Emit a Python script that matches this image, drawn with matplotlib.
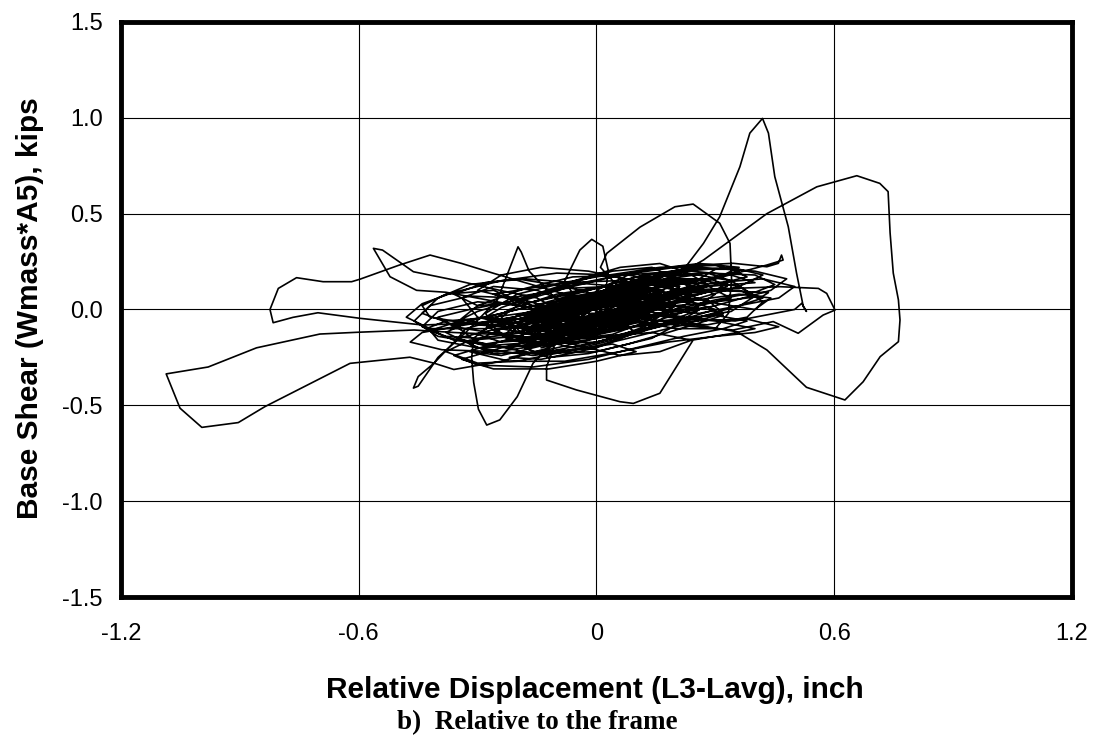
import numpy as np
from matplotlib import pyplot as plt

# ============================================================
# Dados (deslocamento relativo x cortante)
# ============================================================

core_1 = [(0.00, 0.00), (0.05, 0.04), (0.10, 0.08), (0.08, 0.12), (0.02, 0.10), (-0.05, 0.03),
          (-0.10, -0.04), (-0.12, -0.09), (-0.06, -0.10), (0.02, -0.05), (0.10, 0.02), (0.15, 0.08),
          (0.12, 0.13), (0.04, 0.11), (-0.04, 0.04), (-0.12, -0.03), (-0.18, -0.08), (-0.15, -0.13),
          (-0.06, -0.11), (0.04, -0.04), (0.14, 0.04), (0.20, 0.10), (0.17, 0.15), (0.08, 0.13),
          (-0.02, 0.06), (-0.11, -0.02), (-0.20, -0.09), (-0.22, -0.14), (-0.14, -0.15), (-0.03, -0.09),
          (0.08, -0.01), (0.18, 0.06), (0.24, 0.11), (0.20, 0.16), (0.10, 0.14), (0.00, 0.07),
          (-0.10, 0.00), (-0.19, -0.06), (-0.25, -0.11), (-0.21, -0.16), (-0.10, -0.13), (0.02, -0.06),
          (0.12, 0.02), (0.22, 0.08), (0.28, 0.13), (0.24, 0.18), (0.12, 0.17), (0.02, 0.10),
          (-0.08, 0.03), (-0.18, -0.04), (-0.27, -0.09), (-0.30, -0.13), (-0.24, -0.17), (-0.12, -0.15),
          (0.00, -0.08), (0.10, 0.00), (0.20, 0.06), (0.30, 0.10), (0.34, 0.15), (0.28, 0.19),
          (0.16, 0.18), (0.05, 0.12), (-0.06, 0.05), (-0.16, -0.02), (-0.26, -0.06), (-0.33, -0.10),
          (-0.35, -0.15), (-0.28, -0.19), (-0.15, -0.17), (-0.03, -0.11), (-0.15, -0.05), (-0.25, -0.05)]

dip = [(-0.31, -0.15), (-0.315, -0.25), (-0.31, -0.38), (-0.298, -0.52), (-0.277, -0.603),
       (-0.244, -0.576), (-0.20, -0.455), (-0.16, -0.28), (-0.10, -0.15), (-0.02, -0.05)]

core_2 = [(0.05, 0.02), (0.12, 0.07), (0.10, 0.11), (0.03, 0.08), (-0.04, 0.01), (-0.09, -0.05),
          (-0.06, -0.08), (0.00, -0.04), (0.07, 0.02), (0.11, 0.05), (0.06, 0.07), (-0.01, 0.03),
          (-0.07, -0.03), (-0.11, -0.07), (-0.05, -0.09), (0.03, -0.03), (0.09, 0.03), (0.13, 0.09),
          (0.07, 0.10), (0.00, 0.05), (-0.08, -0.01), (-0.14, -0.06), (-0.10, -0.11), (-0.01, -0.07),
          (0.06, -0.01), (0.14, 0.05), (0.17, 0.10), (0.11, 0.12), (0.03, 0.07), (-0.05, 0.00),
          (-0.13, -0.07), (-0.17, -0.11), (-0.09, -0.12), (0.00, -0.06), (0.08, 0.00), (0.16, 0.07),
          (0.21, 0.12), (0.14, 0.14), (0.05, 0.09), (-0.04, 0.02), (-0.12, -0.04), (-0.20, -0.10),
          (-0.18, -0.15), (-0.07, -0.12), (0.03, -0.05), (0.10, 0.05)]

peak = [(0.219, 0.206), (0.27, 0.345), (0.311, 0.484), (0.362, 0.745), (0.387, 0.92), (0.419, 0.997),
        (0.434, 0.92), (0.450, 0.693), (0.484, 0.432), (0.505, 0.189), (0.522, 0.015), (0.53, -0.01),
        (0.518, 0.032), (0.50, 0.0), (0.45, -0.02), (0.35, -0.06), (0.25, -0.05), (0.15, -0.03)]

core_3 = [(-0.02, -0.03), (0.06, 0.01), (0.09, 0.06), (0.04, 0.08), (-0.04, 0.03), (-0.12, -0.04),
          (-0.16, -0.09), (-0.11, -0.12), (-0.03, -0.08), (0.04, -0.02), (0.10, 0.03), (0.07, 0.07),
          (-0.01, 0.04), (-0.09, -0.02), (-0.15, -0.07), (-0.19, -0.12), (-0.13, -0.14), (-0.04, -0.10),
          (0.05, -0.04), (0.12, 0.02), (0.16, 0.06), (0.10, 0.09), (0.02, 0.05), (-0.07, -0.01),
          (-0.13, -0.05), (-0.21, -0.09), (-0.23, -0.13), (-0.16, -0.16), (-0.06, -0.13), (0.02, -0.07),
          (0.09, -0.02), (0.15, 0.04), (0.19, 0.08), (0.13, 0.11), (0.05, 0.07), (-0.03, 0.02),
          (-0.10, -0.03), (-0.17, -0.06), (-0.12, -0.10), (-0.05, -0.07), (0.01, -0.03), (0.05, -0.02)]

left_loop = [(-0.05, -0.06), (-0.15, -0.10), (-0.25, -0.13), (-0.36, -0.12), (-0.46, -0.107),
             (-0.605, -0.119), (-0.698, -0.128), (-0.791, -0.17), (-0.858, -0.20), (-0.98, -0.30),
             (-1.086, -0.336), (-1.051, -0.515), (-0.996, -0.615), (-0.904, -0.590), (-0.837, -0.507),
             (-0.622, -0.281), (-0.471, -0.249), (-0.41, -0.28), (-0.36, -0.313), (-0.24, -0.27),
             (-0.12, -0.20)]

core_4 = [(0.10, 0.03), (0.22, 0.09), (0.32, 0.14), (0.38, 0.17), (0.34, 0.21), (0.22, 0.21),
          (0.10, 0.17), (-0.02, 0.10), (-0.14, 0.03), (-0.26, -0.03), (-0.36, -0.07), (-0.42, -0.11),
          (-0.40, -0.16), (-0.30, -0.20), (-0.18, -0.19), (-0.06, -0.14), (0.06, -0.07), (0.18, -0.01),
          (0.30, 0.05), (0.40, 0.09), (0.45, 0.13), (0.40, 0.18), (0.28, 0.19), (0.15, 0.15),
          (0.03, 0.09), (-0.09, 0.02), (-0.21, -0.04), (-0.33, -0.08), (-0.44, -0.12), (-0.47, -0.17),
          (-0.39, -0.21), (-0.25, -0.22), (-0.12, -0.18), (0.00, -0.12), (0.12, -0.05), (0.24, 0.01),
          (0.34, 0.06), (0.30, 0.10), (0.20, 0.09), (0.08, 0.04), (-0.10, -0.02), (-0.20, -0.05),
          (-0.30, -0.07)]

flag_loop = [(-0.438, -0.081), (-0.597, -0.046), (-0.703, -0.017), (-0.766, -0.041), (-0.816, -0.069),
             (-0.824, 0.0), (-0.803, 0.11), (-0.757, 0.166), (-0.690, 0.145), (-0.618, 0.145),
             (-0.597, 0.158), (-0.50, 0.23), (-0.42, 0.284), (-0.34, 0.24), (-0.26, 0.189),
             (-0.18, 0.14), (-0.08, 0.08)]

core_5 = [(0.10, 0.02), (0.20, 0.07), (0.27, 0.11), (0.24, 0.15), (0.16, 0.14), (0.08, 0.09),
          (0.00, 0.03), (-0.07, -0.03), (-0.10, -0.08), (-0.04, -0.10), (0.05, -0.05), (0.14, 0.01),
          (0.22, 0.06), (0.30, 0.10), (0.27, 0.14), (0.18, 0.13), (0.09, 0.08), (0.01, 0.02),
          (-0.06, -0.04), (-0.12, -0.09), (-0.08, -0.12), (0.02, -0.08), (0.11, -0.02), (0.20, 0.04),
          (0.26, 0.08), (0.33, 0.12), (0.29, 0.16), (0.19, 0.16), (0.10, 0.11), (0.02, 0.05),
          (-0.05, -0.01), (-0.09, -0.06), (-0.02, -0.07), (0.06, -0.03), (0.13, 0.03), (0.18, 0.06),
          (0.12, 0.08), (0.04, 0.04), (-0.03, -0.02), (-0.10, -0.02)]

tip_loop = [(-0.25, 0.04), (-0.38, 0.09), (-0.454, 0.10), (-0.521, 0.171), (-0.563, 0.319),
            (-0.54, 0.31), (-0.462, 0.197), (-0.35, 0.15), (-0.244, 0.10), (-0.15, 0.06)]

core_6 = [(-0.05, -0.06), (-0.18, -0.12), (-0.30, -0.15), (-0.38, -0.14), (-0.43, -0.10),
          (-0.38, -0.06), (-0.26, -0.04), (-0.12, 0.00), (0.02, 0.05), (0.16, 0.10), (0.26, 0.16),
          (0.30, 0.21), (0.20, 0.22), (0.06, 0.18), (-0.08, 0.12), (-0.20, 0.05), (-0.32, 0.00),
          (-0.40, -0.04), (-0.36, -0.09), (-0.24, -0.13), (-0.10, -0.16), (0.04, -0.14), (0.16, -0.09),
          (0.26, -0.04), (0.36, 0.02), (0.42, 0.06), (0.36, 0.10), (0.24, 0.10), (0.12, 0.06),
          (0.00, 0.01), (-0.12, -0.05), (-0.24, -0.10), (-0.32, -0.18), (-0.26, -0.23), (-0.12, -0.22),
          (0.00, -0.17), (0.12, -0.10), (0.22, -0.05), (0.30, 0.00), (0.24, 0.04), (0.12, 0.03),
          (0.10, 0.06)]

right_loop = [(0.27, 0.258), (0.43, 0.50), (0.556, 0.64), (0.657, 0.698), (0.715, 0.658),
              (0.736, 0.615), (0.741, 0.40), (0.749, 0.19), (0.762, 0.05), (0.766, -0.055),
              (0.762, -0.168), (0.716, -0.246), (0.673, -0.377), (0.627, -0.472), (0.53, -0.406),
              (0.43, -0.211), (0.354, -0.116), (0.25, -0.08), (0.12, -0.05)]

core_7 = [(0.02, 0.01), (0.07, 0.04), (0.05, 0.07), (-0.01, 0.04), (-0.05, -0.01), (-0.08, -0.05),
          (-0.04, -0.07), (0.01, -0.04), (0.06, 0.00), (0.09, 0.04), (0.05, 0.06), (0.00, 0.02),
          (-0.05, -0.03), (-0.10, -0.06), (-0.07, -0.09), (-0.01, -0.06), (0.04, -0.02), (0.08, 0.02),
          (0.11, 0.06), (0.06, 0.08), (0.01, 0.05), (-0.04, 0.00), (-0.09, -0.04), (-0.12, -0.08),
          (-0.06, -0.10), (0.00, -0.07), (0.06, -0.03), (0.10, 0.01), (0.13, 0.05), (0.09, 0.09),
          (0.03, 0.06), (-0.03, 0.01), (-0.08, -0.03), (-0.13, -0.06), (-0.10, -0.10), (-0.03, -0.08),
          (0.03, -0.03), (0.08, 0.01), (0.04, 0.03), (-0.02, 0.00), (-0.10, -0.15)]

low_line = [(-0.126, -0.30), (-0.126, -0.368), (-0.05, -0.42), (0.059, -0.481), (0.093, -0.49),
            (0.16, -0.437), (0.244, -0.159), (0.345, -0.124), (0.40, -0.10), (0.30, -0.06),
            (0.15, -0.02)]

core_8 = [(0.00, 0.05), (0.10, 0.12), (0.18, 0.18), (0.14, 0.22), (0.04, 0.20), (-0.06, 0.14),
          (-0.16, 0.07), (-0.24, 0.01), (-0.28, -0.04), (-0.22, -0.07), (-0.12, -0.04), (-0.02, 0.02),
          (0.08, 0.09), (0.16, 0.15), (0.22, 0.20), (0.16, 0.24), (0.06, 0.22), (-0.04, 0.16),
          (-0.14, 0.09), (-0.22, 0.04), (-0.30, -0.01), (-0.34, -0.05), (-0.27, -0.08), (-0.16, -0.06),
          (-0.06, -0.01), (0.04, 0.05), (0.12, 0.10), (0.20, 0.14), (0.14, 0.17), (0.05, 0.13),
          (0.01, 0.22)]

bump = [(0.026, 0.293), (0.11, 0.43), (0.198, 0.536), (0.244, 0.55), (0.311, 0.45), (0.337, 0.345),
        (0.341, 0.154), (0.333, -0.02), (0.30, -0.10), (0.20, -0.10), (0.05, -0.04), (-0.05, 0.05),
        (-0.08, 0.15), (-0.042, 0.31), (-0.012, 0.366), (0.016, 0.33), (0.03, 0.20), (0.02, 0.05)]

core_9 = [(0.00, -0.05), (-0.10, -0.12), (-0.20, -0.18), (-0.16, -0.22), (-0.06, -0.21), (0.04, -0.16),
          (0.14, -0.10), (0.22, -0.05), (0.26, 0.00), (0.20, 0.02), (0.10, -0.02), (0.00, -0.08),
          (-0.10, -0.15), (-0.18, -0.20), (-0.12, -0.25), (-0.02, -0.23), (0.08, -0.18), (0.18, -0.12),
          (0.26, -0.07), (0.32, -0.03), (0.28, 0.01), (0.18, -0.01), (0.08, -0.06), (-0.02, -0.12),
          (-0.12, -0.17), (-0.06, -0.20), (0.04, -0.15), (0.12, -0.09), (0.20, 0.02)]

core_10 = [(0.20, 0.02), (0.15, 0.10), (0.05, 0.15), (-0.08, 0.14), (-0.20, 0.08), (-0.28, -0.02),
           (-0.25, -0.12), (-0.14, -0.18), (0.00, -0.17), (0.12, -0.11), (0.18, -0.03), (0.14, 0.06),
           (0.04, 0.12), (-0.08, 0.11), (-0.18, 0.05), (-0.24, -0.04), (-0.20, -0.12), (-0.08, -0.16),
           (0.04, -0.13), (0.13, -0.06), (0.24, 0.04), (0.20, 0.13), (0.08, 0.18), (-0.06, 0.17),
           (-0.18, 0.11), (-0.30, 0.02), (-0.36, -0.08), (-0.30, -0.17), (-0.16, -0.23), (0.00, -0.22),
           (0.14, -0.15), (0.22, -0.06), (0.16, 0.02), (0.06, 0.06), (-0.10, 0.00)]

core_11 = [(-0.20, 0.06), (-0.32, 0.07), (-0.42, 0.02), (-0.46, -0.06), (-0.40, -0.14), (-0.28, -0.18),
           (-0.16, -0.14), (-0.10, -0.06), (-0.18, 0.02), (-0.30, 0.04), (-0.40, -0.01), (-0.44, -0.09),
           (-0.36, -0.16), (-0.22, -0.20), (-0.12, -0.16), (-0.06, -0.08), (-0.14, 0.00), (-0.26, 0.10),
           (-0.38, 0.08), (-0.44, 0.02), (-0.42, -0.04), (-0.30, -0.08), (-0.18, -0.10), (-0.06, -0.05),
           (0.05, 0.00)]

core_12 = [(0.15, -0.06), (0.28, -0.08), (0.38, -0.04), (0.42, 0.04), (0.36, 0.12), (0.24, 0.16),
           (0.12, 0.14), (0.04, 0.07), (0.10, -0.02), (0.22, -0.05), (0.34, -0.01), (0.40, 0.07),
           (0.34, 0.15), (0.20, 0.20), (0.08, 0.18), (0.00, 0.10), (0.06, 0.02), (0.18, -0.03),
           (0.30, 0.02), (0.44, 0.10), (0.48, 0.16), (0.40, 0.20), (0.26, 0.22), (0.14, 0.16),
           (0.04, 0.06), (-0.05, -0.02)]

core_13 = [(0.00, -0.02), (0.08, -0.06), (0.14, -0.01), (0.10, 0.06), (0.00, 0.08), (-0.10, 0.04),
           (-0.15, -0.04), (-0.10, -0.10), (0.00, -0.11), (0.08, -0.06), (0.12, 0.02), (0.05, 0.07),
           (-0.05, 0.06), (-0.12, 0.00), (-0.14, -0.07), (-0.06, -0.12), (0.04, -0.09), (0.11, -0.03),
           (0.09, 0.05), (-0.01, 0.07), (-0.09, 0.02), (-0.17, -0.05), (-0.12, -0.13), (-0.02, -0.14),
           (0.08, -0.08), (0.15, 0.00), (0.12, 0.08), (0.02, 0.10), (-0.08, 0.06), (-0.16, -0.01),
           (-0.20, -0.09), (-0.12, -0.16), (0.00, -0.13), (0.10, -0.05), (0.06, 0.02), (-0.02, 0.00)]

core_14 = [(-0.05, 0.02), (-0.15, 0.10), (-0.26, 0.12), (-0.34, 0.06), (-0.30, -0.04), (-0.18, -0.10),
           (-0.02, -0.12), (0.12, -0.08), (0.24, 0.00), (0.30, 0.08), (0.22, 0.14), (0.08, 0.12),
           (-0.06, 0.06), (-0.20, 0.00), (-0.32, -0.06), (-0.38, -0.12), (-0.30, -0.20), (-0.16, -0.24),
           (-0.02, -0.20), (0.10, -0.14), (0.22, -0.08), (0.32, -0.02), (0.28, 0.05), (0.16, 0.06),
           (0.05, 0.05)]

core_15 = [(-0.08, 0.12), (-0.20, 0.16), (-0.32, 0.13), (-0.40, 0.06), (-0.44, -0.02), (-0.36, -0.08),
           (-0.22, -0.06), (-0.10, 0.00), (0.00, 0.06), (0.10, 0.12), (0.04, 0.18), (-0.10, 0.19),
           (-0.24, 0.15), (-0.36, 0.09), (-0.44, 0.03), (-0.48, -0.04), (-0.42, -0.10), (-0.28, -0.10),
           (-0.14, -0.04), (-0.02, 0.04), (0.12, 0.10), (0.26, 0.15), (0.36, 0.20), (0.30, 0.23),
           (0.16, 0.22), (0.00, 0.17), (-0.14, 0.12), (-0.26, 0.08), (-0.16, 0.02), (-0.04, -0.02)]

core_16 = [(-0.14, -0.10), (-0.26, -0.18), (-0.36, -0.24), (-0.30, -0.29), (-0.16, -0.30), (-0.02, -0.26),
           (0.10, -0.20), (0.22, -0.14), (0.32, -0.10), (0.38, -0.06), (0.30, -0.03), (0.16, -0.06),
           (0.02, -0.12), (-0.12, -0.18), (-0.24, -0.24), (-0.32, -0.22), (-0.22, -0.27), (-0.08, -0.27),
           (0.06, -0.22), (0.18, -0.17), (0.30, -0.14), (0.40, -0.12), (0.46, -0.09), (0.38, -0.05),
           (0.24, -0.06), (0.10, -0.09), (-0.02, -0.14), (-0.14, -0.20), (-0.06, -0.15), (0.04, -0.08)]

core_17 = [(0.10, -0.02), (0.02, 0.04), (-0.06, -0.02), (-0.02, -0.08), (0.06, -0.04), (0.12, 0.04),
           (0.04, 0.08), (-0.04, 0.02), (-0.12, -0.05), (-0.08, -0.11), (0.02, -0.08), (0.08, 0.00),
           (0.00, 0.05), (-0.08, 0.00), (-0.14, -0.08), (-0.04, -0.13), (0.06, -0.06), (0.14, 0.03),
           (0.08, 0.10), (-0.02, 0.07), (-0.10, 0.01), (-0.18, -0.06), (-0.10, -0.12), (0.00, -0.10),
           (0.10, -0.03), (0.16, 0.06), (0.10, 0.12), (0.00, 0.09), (-0.10, 0.03), (-0.20, -0.03),
           (-0.24, -0.10), (-0.14, -0.14), (-0.02, -0.10), (0.08, -0.04), (0.18, 0.02), (0.24, 0.08),
           (0.16, 0.12), (0.06, 0.08), (-0.04, 0.03), (-0.14, -0.04), (-0.06, -0.06), (0.02, -0.02)]

core_18 = [(0.14, 0.02), (0.26, 0.06), (0.36, 0.12), (0.42, 0.18), (0.34, 0.22), (0.22, 0.20),
           (0.10, 0.14), (0.04, 0.06), (0.14, 0.00), (0.26, -0.02), (0.36, 0.02), (0.46, 0.06),
           (0.50, 0.12), (0.42, 0.16), (0.30, 0.14), (0.20, 0.10), (0.28, 0.04), (0.40, 0.00),
           (0.44, 0.06), (0.36, 0.08), (0.22, 0.04), (0.10, 0.00), (0.10, 0.15)]

core_19 = [(-0.02, 0.20), (-0.14, 0.22), (-0.24, 0.18), (-0.30, 0.10), (-0.22, 0.06), (-0.10, 0.10),
           (0.02, 0.16), (0.14, 0.21), (0.26, 0.24), (0.36, 0.22), (0.30, 0.16), (0.18, 0.14),
           (0.06, 0.12), (-0.06, 0.14), (-0.18, 0.16), (-0.28, 0.14), (-0.36, 0.08), (-0.30, 0.02),
           (-0.16, 0.04), (-0.02, 0.10), (0.12, 0.18), (0.24, 0.20), (0.34, 0.18), (0.40, 0.14),
           (0.28, 0.12), (0.14, 0.08), (0.00, 0.04), (0.00, -0.06)]

core_20 = [(-0.12, -0.14), (-0.24, -0.20), (-0.34, -0.26), (-0.26, -0.31), (-0.12, -0.31), (0.00, -0.27),
           (0.10, -0.22), (0.04, -0.18), (-0.08, -0.22), (-0.20, -0.27), (-0.30, -0.28), (-0.38, -0.22),
           (-0.32, -0.16), (-0.20, -0.14), (-0.06, -0.18), (0.06, -0.24), (0.16, -0.22), (0.24, -0.16),
           (0.14, -0.12), (0.02, -0.14), (-0.10, -0.20), (-0.22, -0.25), (-0.14, -0.26), (0.00, -0.20),
           (0.10, -0.12), (0.04, -0.04)]

core_21 = [(-0.06, 0.04), (-0.16, 0.00), (-0.20, -0.08), (-0.12, -0.14), (0.00, -0.12), (0.12, -0.06),
           (0.20, 0.02), (0.14, 0.10), (0.02, 0.12), (-0.10, 0.08), (-0.22, 0.00), (-0.28, -0.08),
           (-0.22, -0.16), (-0.10, -0.18), (0.04, -0.14), (0.16, -0.08), (0.26, 0.00), (0.22, 0.10),
           (0.10, 0.14), (-0.04, 0.10), (-0.16, 0.04), (-0.08, -0.04), (0.02, -0.06), (0.08, 0.02),
           (0.00, 0.06), (-0.08, 0.02), (-0.04, -0.04), (0.10, 0.15)]

extras = [(0.26, 0.232), (0.345, 0.241), (0.387, 0.232), (0.43, 0.223), (0.459, 0.241), (0.467, 0.284),
          (0.471, 0.258), (0.43, 0.232), (0.30, 0.16), (0.20, 0.10), (0.345, 0.11), (0.463, 0.119),
          (0.56, 0.11), (0.581, 0.084), (0.602, -0.003), (0.572, -0.029), (0.509, -0.124),
          (0.446, -0.063), (0.345, -0.107), (0.20, -0.08), (0.05, -0.06), (-0.10, -0.08),
          (-0.25, -0.10), (-0.35, -0.15), (-0.41, -0.28), (-0.45, -0.35), (-0.462, -0.41),
          (-0.45, -0.40), (-0.40, -0.25), (-0.33, -0.12), (-0.25, 0.05), (-0.198, 0.327),
          (-0.19, 0.30), (-0.17, 0.20), (-0.10, 0.05), (0.05, 0.06), (0.20, 0.08), (0.30, 0.10),
          (0.434, 0.088), (0.42, 0.07), (0.30, 0.04), (0.15, 0.01), (0.00, -0.02)]

trecho = (core_1 + dip + core_2 + peak + core_3 + left_loop + core_4 + flag_loop + core_5
          + tip_loop + core_6 + right_loop + core_7 + low_line + core_8 + bump + core_9
          + core_10 + core_11 + core_12 + core_13 + core_14 + core_15 + core_16 + core_17
          + core_18 + core_19 + core_20 + core_21 + extras)
desloc, cortante = np.array(trecho).T

x_ticks = [-1.2, -0.6, 0.0, 0.6, 1.2]
x_labels = ["-1.2", "-0.6", "0", "0.6", "1.2"]
y_ticks = [-1.5, -1.0, -0.5, 0.0, 0.5, 1.0, 1.5]
y_labels = ["-1.5", "-1.0", "-0.5", "0.0", "0.5", "1.0", "1.5"]

# ============================================================
# Figura
# ============================================================

plt.rcParams["font.family"] = ["Liberation Sans", "DejaVu Sans"]

fig = plt.figure(figsize=(10.99, 7.43), dpi=100)
ax = fig.add_axes([0.1101, 0.1965, 0.8653, 0.7739])

ax.plot(desloc, cortante, color="black", linewidth=1.2)

ax.set_xlim(-1.2, 1.2)
ax.set_ylim(-1.5, 1.5)
ax.set_xticks(x_ticks)
ax.set_xticklabels(x_labels)
ax.set_yticks(y_ticks)
ax.set_yticklabels(y_labels)
ax.tick_params(axis="both", length=0, labelsize=17)
ax.tick_params(axis="x", pad=19)
ax.tick_params(axis="y", pad=13)
ax.grid(True, color="black", linewidth=0.8)
ax.set_axisbelow(True)

for s in ax.spines.values():
    s.set_linewidth(3.5)

fig.text(0.5415, 0.071, "Relative Displacement (L3-Lavg), inch", ha="center", va="center",
         fontsize=21.5, fontweight="bold")
fig.text(0.0273, 0.585, "Base Shear (Wmass*A5), kips", ha="center", va="center",
         rotation=90, fontsize=21.5, fontweight="bold")
fig.text(0.489, 0.028, "b)  Relative to the frame", ha="center", va="center",
         fontsize=19.5, fontweight="bold", family="Liberation Serif")

fig.savefig("out.png", dpi=100)
